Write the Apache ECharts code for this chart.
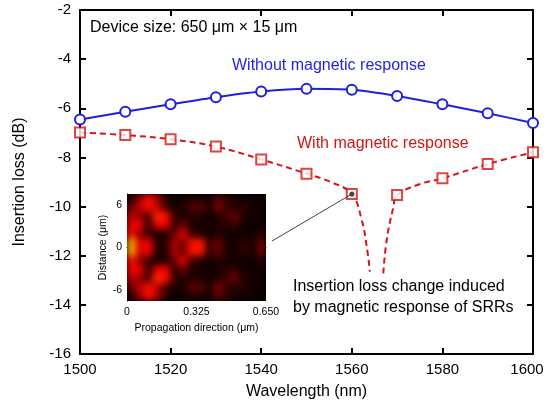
<!DOCTYPE html>
<html><head><meta charset="utf-8">
<script src="https://cdn.jsdelivr.net/npm/echarts@6/dist/echarts.min.js"></script>
<style>
html,body{margin:0;padding:0;background:#fff;}
#main{position:absolute;left:0;top:0;width:548px;height:414px;}
#insetBox{position:absolute;left:127px;top:194px;width:139px;height:107px;overflow:hidden;background:#000;}
#inset{position:absolute;left:0;top:0;width:139px;height:107px;filter:blur(3.5px);}
</style></head><body>
<div id="main"></div>
<div id="insetBox"><div id="inset"></div></div>
<script>
// ---------- data ----------
const wavelengths = [1500,1510,1520,1530,1540,1550,1560,1570,1580,1590,1600];
const lossWithout = [-6.46,-6.14,-5.84,-5.55,-5.32,-5.21,-5.25,-5.50,-5.84,-6.20,-6.60];
const lossWith    = [-6.99,-7.09,-7.26,-7.56,-8.08,-8.66,-9.49,-9.53,-8.85,-8.27,-7.79];
// dashed fit curve (extra points read along the drawn curve near the resonance dip)
const fitLeftWl    = [1500,1510,1520,1530,1540,1550,1555.2,1560,1562.2,1563.3,1564.0];
const fitLeftLoss  = [-6.99,-7.09,-7.26,-7.56,-8.08,-8.66,-8.99,-9.49,-10.55,-11.63,-12.65];
const fitRightWl   = [1566.95,1567.7,1569.2,1570,1575.1,1580,1590,1600];
const fitRightLoss = [-12.72,-11.36,-10.0,-9.53,-9.08,-8.85,-8.27,-7.79];
// annotation pointer (from text to the 1560 nm point)
const pointerFrom = [1542.4,-11.4];
const pointerTo   = [1560,-9.49];
// axes
const xTicks = [1500,1520,1540,1560,1580,1600];
const yTicks = [-16,-14,-12,-10,-8,-6,-4,-2];
// inset field map (rows top→bottom, columns along propagation), relative intensity
const insetXTickValues = [0,0.325,0.65];
const insetXTickLabels = ['0','0.325','0.650'];
const insetYTickValues = [-6,0,6];
const insetYTickLabels = ['-6','0','6'];
const field = [
 [.10,.30,.75,.35,.08,.05,.05,.08,.08,.05,.22,.12,.05,.05,.04,.04],
 [.25,.40,.75,.40,.18,.05,.08,.22,.22,.08,.28,.15,.10,.12,.05,.05],
 [.40,.30,.20,.85,.75,.15,.08,.10,.10,.05,.10,.18,.25,.08,.05,.05],
 [.65,.50,.10,.55,.50,.12,.25,.08,.06,.05,.06,.12,.15,.05,.04,.05],
 [.75,.30,.15,.05,.08,.25,.50,.15,.10,.05,.12,.05,.05,.05,.05,.10],
 [1.0,.45,.60,.08,.10,.38,.25,.75,.80,.12,.25,.08,.06,.15,.06,.25],
 [1.0,.45,.60,.08,.10,.38,.25,.75,.80,.12,.25,.08,.06,.15,.06,.25],
 [.75,.30,.15,.05,.08,.25,.50,.15,.10,.05,.12,.05,.05,.05,.05,.10],
 [.65,.50,.10,.55,.50,.12,.25,.08,.06,.05,.06,.12,.15,.05,.04,.05],
 [.40,.30,.20,.85,.75,.15,.08,.10,.10,.05,.10,.18,.25,.08,.05,.05],
 [.25,.40,.75,.40,.18,.05,.08,.22,.22,.08,.28,.15,.10,.12,.05,.05],
 [.10,.30,.75,.35,.08,.05,.05,.08,.08,.05,.22,.12,.05,.05,.04,.04]
];

// ---------- styling ----------
const FONT = "'Liberation Sans', Arial, sans-serif";
const BLUE = '#1f1fe0';
const RED = '#d41515';

const blueData = wavelengths.map((w,i)=>[w,lossWithout[i]]);
const redData = wavelengths.map((w,i)=>[w,lossWith[i]]);
const leftBranch = fitLeftWl.map((w,i)=>[w,fitLeftLoss[i]]);
const rightBranch = fitRightWl.map((w,i)=>[w,fitRightLoss[i]]);

const axisLineStyle = {color:'#000',width:2};
const tickStyle = {inside:true,length:6,lineStyle:{color:'#000',width:2}};
const xLabel = (v)=> v===1600 ? '{r|'+v+'}' : String(v);

const chart = echarts.init(document.getElementById('main'));
chart.setOption({
  animation:false,
  backgroundColor:'#fff',
  grid:[
    {left:80,right:15,top:10,bottom:60,outerBoundsMode:'none',containLabel:false},
    {left:127,top:194,width:139,height:107,outerBoundsMode:'none',containLabel:false}
  ],
  xAxis:[
    {type:'value',gridIndex:0,min:1500,max:1600,interval:20,position:'bottom',
     axisLine:{lineStyle:axisLineStyle},axisTick:tickStyle,splitLine:{show:false},
     axisLabel:{fontSize:15,color:'#000',margin:8,fontFamily:FONT,formatter:xLabel,
       customValues:xTicks,
       rich:{r:{fontSize:15,color:'#000',fontFamily:FONT,padding:[0,12,0,0]}}},
     name:'Wavelength (nm)',nameLocation:'middle',nameGap:30,
     nameTextStyle:{fontSize:16,color:'#000',fontFamily:FONT}},
    {type:'value',gridIndex:0,min:1500,max:1600,interval:20,position:'top',
     axisLine:{lineStyle:axisLineStyle},axisTick:tickStyle,axisLabel:{show:false},splitLine:{show:false}},
    {type:'value',gridIndex:1,min:0,max:0.65,
     axisLine:{lineStyle:{color:'#000',width:1}},axisTick:{show:false},splitLine:{show:false},
     axisLabel:{customValues:insetXTickValues,fontSize:10.5,color:'#000',margin:6,fontFamily:FONT,
       formatter:(v)=>{const i=insetXTickValues.findIndex(t=>Math.abs(t-v)<1e-6);return i>=0?insetXTickLabels[i]:'';}},
     name:'Propagation direction (μm)',nameLocation:'middle',nameGap:22,
     nameTextStyle:{fontSize:10.5,color:'#000',fontFamily:FONT}}
  ],
  yAxis:[
    {type:'value',gridIndex:0,min:-16,max:-2,interval:2,position:'left',
     axisLine:{lineStyle:axisLineStyle},axisTick:tickStyle,splitLine:{show:false},
     axisLabel:{fontSize:15,color:'#000',margin:9,fontFamily:FONT,formatter:(v)=>String(v),customValues:yTicks},
     name:'Insertion loss (dB)',nameLocation:'middle',nameGap:52,
     nameTextStyle:{fontSize:16,color:'#000',fontFamily:FONT}},
    {type:'value',gridIndex:0,min:-16,max:-2,interval:2,position:'right',
     axisLine:{lineStyle:axisLineStyle},axisTick:tickStyle,axisLabel:{show:false},splitLine:{show:false}},
    {type:'value',gridIndex:1,min:-7.6,max:7.6,
     axisLine:{lineStyle:{color:'#000',width:1}},axisTick:{show:false},splitLine:{show:false},
     axisLabel:{customValues:insetYTickValues,fontSize:10.5,color:'#000',margin:5,fontFamily:FONT,
       formatter:(v)=>{const i=insetYTickValues.findIndex(t=>Math.abs(t-v)<1e-6);return i>=0?insetYTickLabels[i]:'';}},
     name:'Distance (μm)',nameLocation:'middle',nameGap:16,
     nameTextStyle:{fontSize:10.5,color:'#000',fontFamily:FONT}}
  ],
  series:[
    {type:'line',xAxisIndex:0,yAxisIndex:0,data:leftBranch,smooth:0.4,showSymbol:false,
     lineStyle:{color:RED,width:2,type:[6,4]},z:2},
    {type:'line',xAxisIndex:0,yAxisIndex:0,data:rightBranch,smooth:0.4,showSymbol:false,
     lineStyle:{color:RED,width:2,type:[6,4]},z:2},
    {type:'scatter',xAxisIndex:0,yAxisIndex:0,data:redData,symbol:'rect',symbolSize:10,
     itemStyle:{color:'#fff',borderColor:RED,borderWidth:2},z:3,
     markLine:{silent:true,symbol:['none','circle'],symbolSize:5,label:{show:false},
       lineStyle:{color:'#444',width:1,type:'solid'},
       data:[[{coord:pointerFrom},{coord:pointerTo,itemStyle:{color:'#000'}}]]}},
    {type:'line',xAxisIndex:0,yAxisIndex:0,data:blueData,smooth:0.2,symbol:'circle',symbolSize:10,
     lineStyle:{color:BLUE,width:2},itemStyle:{color:'#fff',borderColor:BLUE,borderWidth:2},z:4}
  ],
  graphic:[
    {type:'text',x:90,y:28,style:{text:'Device size: 650 μm × 15 μm',fontSize:16,fontFamily:FONT,fill:'#000',verticalAlign:'middle'}},
    {type:'text',x:232,y:66,style:{text:'Without magnetic response',fontSize:16,fontFamily:FONT,fill:BLUE,verticalAlign:'middle'}},
    {type:'text',x:297,y:144,style:{text:'With magnetic response',fontSize:16,fontFamily:FONT,fill:RED,verticalAlign:'middle'}},
    {type:'text',x:293,y:287,style:{text:'Insertion loss change induced',fontSize:16,fontFamily:FONT,fill:'#000',verticalAlign:'middle'}},
    {type:'text',x:293,y:308,style:{text:'by magnetic response of SRRs',fontSize:16,fontFamily:FONT,fill:'#000',verticalAlign:'middle'}}
  ]
});

// inset field map
const rows = field.length;
const heatData = [];
field.forEach((row,r)=>row.forEach((v,c)=>heatData.push([c,rows-1-r,v])));
const inset = echarts.init(document.getElementById('inset'));
inset.setOption({
  animation:false,
  backgroundColor:'#000',
  grid:{left:0,right:0,top:0,bottom:0,outerBoundsMode:'none'},
  xAxis:{type:'category',data:field[0].map((_,i)=>i),show:false},
  yAxis:{type:'category',data:field.map((_,i)=>i),show:false},
  visualMap:{show:false,min:0,max:1,inRange:{color:['#000000','#3c0000','#a00000','#f00000','#ff0000','#ff1a00','#ffb000']}},
  series:[{type:'heatmap',data:heatData,itemStyle:{borderWidth:0}}]
});
</script></body></html>
